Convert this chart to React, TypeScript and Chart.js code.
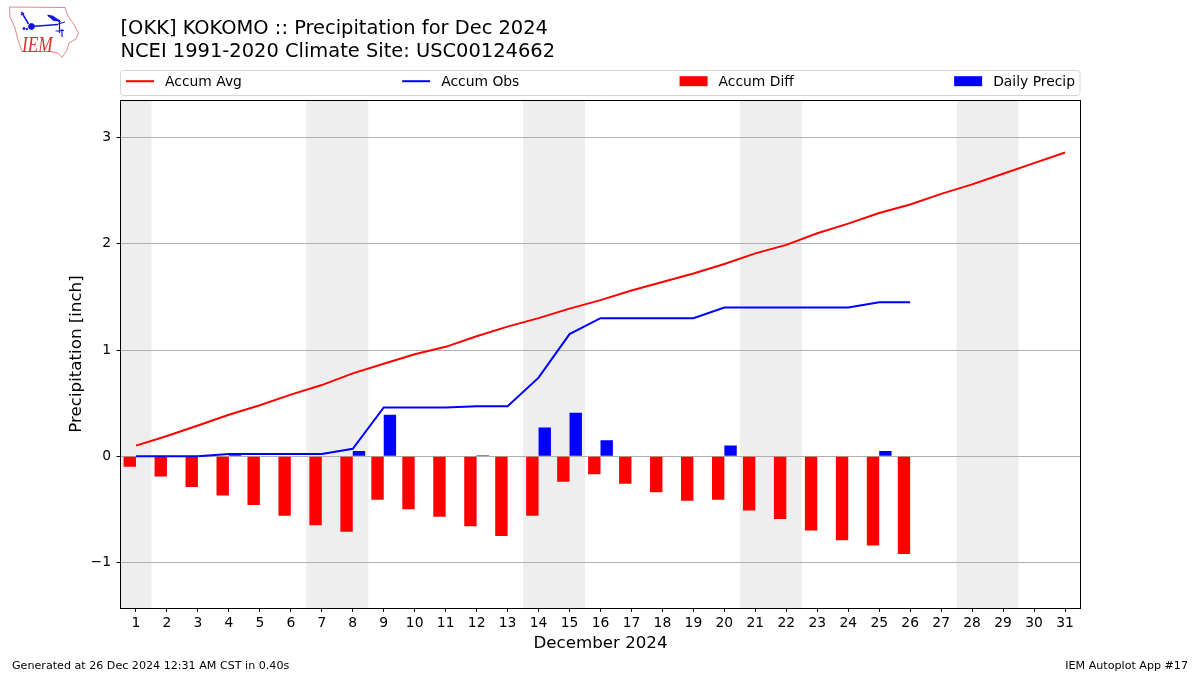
import React, { useEffect, useRef } from "react";
import { Chart, registerables } from "chart.js";

Chart.register(...registerables);

const FONT = "'DejaVu Sans', sans-serif";

const days = ["1","2","3","4","5","6","7","8","9","10","11","12","13","14","15","16","17","18","19","20","21","22","23","24","25","26","27","28","29","30","31"];
const accumAvg = [0.10,0.19,0.29,0.39,0.48,0.58,0.67,0.78,0.87,0.96,1.03,1.13,1.22,1.30,1.39,1.47,1.56,1.64,1.72,1.81,1.91,1.99,2.10,2.19,2.29,2.37,2.47,2.56,2.66,2.76,2.86];
const accumObs = [0,0,0,0.02,0.02,0.02,0.02,0.07,0.46,0.46,0.46,0.47,0.47,0.74,1.15,1.30,1.30,1.30,1.30,1.40,1.40,1.40,1.40,1.40,1.45,1.45,null,null,null,null,null];
const accumDiff = [-0.10,-0.19,-0.29,-0.37,-0.46,-0.56,-0.65,-0.71,-0.41,-0.50,-0.57,-0.66,-0.75,-0.56,-0.24,-0.17,-0.26,-0.34,-0.42,-0.41,-0.51,-0.59,-0.70,-0.79,-0.84,-0.92,null,null,null,null,null];
const dailyPrecip = [0,0,0,0.02,0,0,0,0.05,0.39,0,0,0.01,0,0.27,0.41,0.15,0,0,0,0.10,0,0,0,0,0.05,0,null,null,null,null,null];
const weekendSpans = [[1,1],[7,8],[14,15],[21,22],[28,29]];
const titleLines = ["[OKK] KOKOMO :: Precipitation for Dec 2024", "NCEI 1991-2020 Climate Site: USC00124662"];
const footerLeft = "Generated at 26 Dec 2024 12:31 AM CST in 0.40s";
const footerRight = "IEM Autoplot App #17";

const decorations = {
  id: "decorations",
  beforeDraw(chart: any) {
    const { ctx, chartArea: a, scales } = chart;
    const step = scales.x.getPixelForValue(1) - scales.x.getPixelForValue(0);
    ctx.save();
    ctx.fillStyle = "#eeeeee";
    for (const [s, e] of weekendSpans) {
      const x0 = scales.x.getPixelForValue(s - 1) - step / 2;
      const x1 = scales.x.getPixelForValue(e - 1) + step / 2;
      ctx.fillRect(x0, a.top, x1 - x0, a.bottom - a.top);
    }
    ctx.restore();
  },
  afterDraw(chart: any) {
    const { ctx, chartArea: a, data } = chart;
    ctx.save();
    // frame
    ctx.strokeStyle = "#000";
    ctx.lineWidth = 1;
    ctx.strokeRect(Math.floor(a.left) + 0.5, a.top + 0.5, Math.round(a.right - a.left), a.bottom - a.top);
    // legend, spread over the width of the axes
    const top = 70, h = 25, cy = 81.2;
    ctx.strokeStyle = "#d5d5d5";
    ctx.beginPath();
    ctx.roundRect(a.left, top + 0.5, a.right - a.left - 0.5, h, 3);
    ctx.stroke();
    ctx.font = `13.89px ${FONT}`;
    ctx.textBaseline = "middle";
    const hw = 28, gap = 11, pad = 5.5;
    const widths = data.datasets.map((d: any) => hw + gap + ctx.measureText(d.label).width);
    const free = a.right - a.left - 2 * pad - widths.reduce((p: number, c: number) => p + c, 0);
    let x = a.left + pad;
    data.datasets.forEach((d: any, i: number) => {
      if (d.type === "line") {
        ctx.strokeStyle = d.borderColor;
        ctx.lineWidth = 2;
        ctx.beginPath();
        ctx.moveTo(x, cy);
        ctx.lineTo(x + hw, cy);
        ctx.stroke();
      } else {
        ctx.fillStyle = d.backgroundColor;
        ctx.fillRect(x, cy - 5, hw, 10);
      }
      ctx.fillStyle = "#000";
      ctx.textAlign = "left";
      ctx.fillText(d.label, x + hw + gap, cy + 1.2);
      x += widths[i] + free / 3;
    });
    // footer
    ctx.font = `11.11px ${FONT}`;
    ctx.fillStyle = "#000";
    ctx.textBaseline = "middle";
    ctx.textAlign = "left";
    ctx.fillText(footerLeft, 12, 666.6);
    ctx.textAlign = "right";
    ctx.fillText(footerRight, 1188, 666.6);
    ctx.restore();
  },
};

function Logo() {
  return (
    <svg width={80} height={60} style={{ position: "absolute", left: 0, top: 0 }}>
      <path d="M9.5 7 L65 7.5 L66 11 L68 16 L73 23 L78.5 33 L76 39 L69 43 L67 50 L65 53 L62 57.5 L58 53 L50 51.5 L22 51.5 L18 40 L15 28 L10 17 Z" fill="#fff" stroke="#e08888" strokeWidth={1} />
      <g stroke="#1414d8" fill="#1414d8">
        <path d="M31.5 26.5 L58 24.5 M48 15.5 L60 21 M21.5 12 L25 18 L28.5 24 M21 15 L24 13" fill="none" strokeWidth={1.5} />
        <path d="M47.5 15 L53 16 L60.5 21.5 L53 20.5 Z" strokeWidth={0.6} />
        <circle cx={31.5} cy={26.5} r={2.9} />
        <path d="M59.5 21 L59.5 33 M62 29 L62 37 M55.5 31 L64 30.5 M58 24 L65 22" fill="none" strokeWidth={1.2} />
        <circle cx={24} cy={28.5} r={1} />
        <circle cx={27} cy={29} r={0.8} />
      </g>
      <text transform="translate(22 52) scale(0.72 1)" fontFamily="'Liberation Serif', serif" fontStyle="italic" fontSize={24} fill="#d83030">IEM</text>
    </svg>
  );
}

export default function App() {
  const ref = useRef<HTMLCanvasElement>(null);
  useEffect(() => {
    const chart = new Chart(ref.current as HTMLCanvasElement, {
      data: {
        labels: days,
        datasets: [
          { type: "line", label: "Accum Avg", data: accumAvg, borderColor: "#ff0000", backgroundColor: "#ff0000", borderWidth: 2, pointRadius: 0, tension: 0 },
          { type: "line", label: "Accum Obs", data: accumObs, borderColor: "#0000ff", backgroundColor: "#0000ff", borderWidth: 2, pointRadius: 0, tension: 0 },
          { type: "bar", label: "Accum Diff", data: accumDiff, backgroundColor: "#ff0000", categoryPercentage: 0.8, barPercentage: 1 },
          { type: "bar", label: "Daily Precip", data: dailyPrecip, backgroundColor: "#0000ff", categoryPercentage: 0.8, barPercentage: 1 },
        ],
      } as any,
      options: {
        animation: false,
        responsive: false,
        layout: { padding: { left: 67, right: 119.5, top: 0, bottom: 21 } },
        plugins: {
          legend: { display: false },
          tooltip: { enabled: false },
          title: {
            display: true,
            text: titleLines,
            align: "start",
            fullSize: false,
            color: "#000",
            font: { family: FONT, size: 19.44, weight: "normal", lineHeight: 1.15 },
            padding: { top: 18, bottom: 37.3 },
          } as any,
        },
        scales: {
          x: {
            type: "category",
            offset: true,
            grid: { display: true, drawOnChartArea: false, drawTicks: true, tickColor: "#000", tickLength: 4, offset: false },
            border: { color: "#000" },
            ticks: { color: "#000", font: { family: FONT, size: 13.89 }, maxRotation: 0, autoSkip: false, padding: 3 },
            title: { display: true, text: "December 2024", color: "#000", font: { family: FONT, size: 16.67 }, padding: 0 },
            afterFit: (s: any) => { s.height = 46; },
          },
          y: {
            type: "linear",
            min: -1.429,
            max: 3.354,
            afterBuildTicks: (s: any) => { s.ticks = [-1, 0, 1, 2, 3].map((v) => ({ value: v })); },
            grid: { color: "#b0b0b0", tickColor: "#000", tickLength: 4, lineWidth: 1 },
            border: { color: "#000" },
            ticks: { color: "#000", font: { family: FONT, size: 13.89 }, padding: 5.5, callback: (v: any) => (v < 0 ? "\u2212" + Math.abs(v) : String(v)) },
            title: { display: true, text: "Precipitation [inch]", color: "#000", font: { family: FONT, size: 16.67 }, padding: 0 },
            afterFit: (s: any) => { s.width = 53.5; },
          },
        },
      } as any,
      plugins: [decorations],
    });
    return () => chart.destroy();
  }, []);
  return (
    <div style={{ position: "absolute", left: 0, top: 0, width: 1200, height: 675, background: "#fff" }}>
      <canvas ref={ref} width={1200} height={675} style={{ display: "block" }} />
      <Logo />
    </div>
  );
}
